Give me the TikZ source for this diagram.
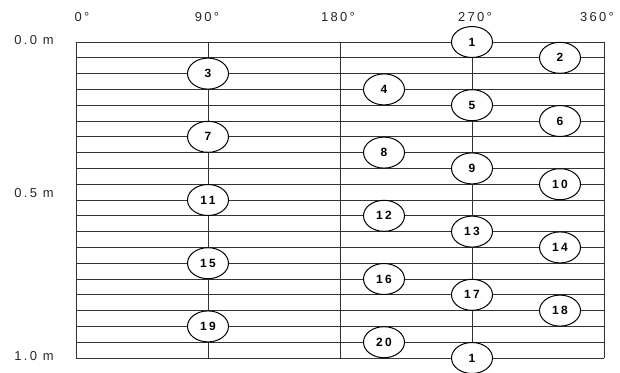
\documentclass[tikz,border=0pt]{standalone}
\usepackage{fontspec}
\setmainfont{Liberation Sans}
\usetikzlibrary{shapes.geometric, positioning}

\begin{document}
\begin{tikzpicture}[x=1bp, y=-1bp,
        font=\fontsize{13}{15}\selectfont\addfontfeatures{LetterSpace=18},
        gridline/.style={draw=black!80, line width=0.9pt},
        axislabel/.style={text=black!85, inner sep=0pt},
        probe/.style={ellipse, draw=black, fill=white, line width=1pt, minimum width=41bp, minimum height=31bp, inner sep=0pt, font=\fontsize{12}{14}\selectfont\bfseries\addfontfeatures{LetterSpace=20}}]

      \useasboundingbox (0,0) rectangle (620,372);

      % 1. Grid (depth rows and angle columns)
      \foreach \i in {0,...,20}
        \draw[gridline] (76, 42+15.8*\i) -- (604, 42+15.8*\i);
      \foreach \x in {76, 208, 340, 472, 604}
        \draw[gridline] (\x, 42) -- (\x, 358);

      % 2. Axis labels
      \node[axislabel] (a0) at (82, 17) {0°};
      \node[axislabel] (a90) at (207, 17) {90°};
      \node[axislabel] (a180) at (338, 17) {180°};
      \node[axislabel] (a270) at (475, 17) {270°};
      \node[axislabel] (a360) at (597, 17) {360°};

      \node[axislabel] (d00) at (34, 40) {0.0 m};
      \node[axislabel] (d05) at (34, 193) {0.5 m};
      \node[axislabel] (d10) at (34, 356) {1.0 m};

      % 3. Measuring points
      \node[probe] (p1) at (472, 42) {1};
      \node[probe] (p2) at (560, 57.8) {2};
      \node[probe] (p3) at (208, 73.6) {3};
      \node[probe] (p4) at (384, 89.4) {4};
      \node[probe] (p5) at (472, 105.2) {5};
      \node[probe] (p6) at (560, 121) {6};
      \node[probe] (p7) at (208, 136.8) {7};
      \node[probe] (p8) at (384, 152.6) {8};
      \node[probe] (p9) at (472, 168.4) {9};
      \node[probe] (p10) at (560, 184.2) {10};
      \node[probe] (p11) at (208, 200) {11};
      \node[probe] (p12) at (384, 215.8) {12};
      \node[probe] (p13) at (472, 231.6) {13};
      \node[probe] (p14) at (560, 247.4) {14};
      \node[probe] (p15) at (208, 263.2) {15};
      \node[probe] (p16) at (384, 279) {16};
      \node[probe] (p17) at (472, 294.8) {17};
      \node[probe] (p18) at (560, 310.6) {18};
      \node[probe] (p19) at (208, 326.4) {19};
      \node[probe] (p20) at (384, 342.2) {20};
      \node[probe] (p1b) at (472, 358) {1};
    \end{tikzpicture}
\end{document}
